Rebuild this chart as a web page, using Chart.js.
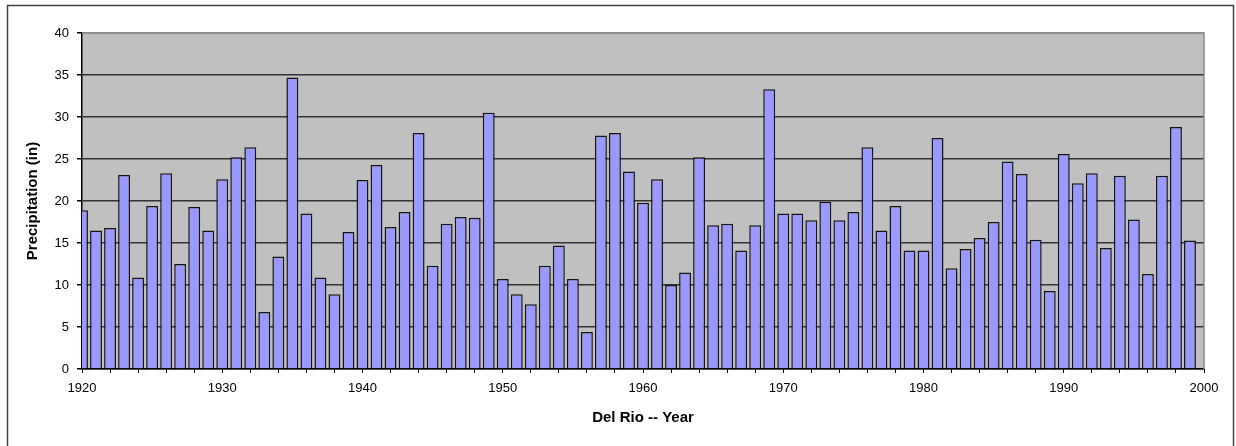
<!DOCTYPE html>
<html>
<head>
<meta charset="utf-8">
<title>Del Rio precipitation</title>
<script src="https://cdn.jsdelivr.net/npm/chart.js@4.4.1/dist/chart.umd.min.js"></script>
<style>
    html, body { margin: 0; padding: 0; background: #ffffff; }
    #wrap { width: 1236px; height: 446px; position: relative; }
</style>
</head>
<body>
<div id="wrap"><canvas id="rainChart" width="1236" height="446"></canvas></div>
<script>
// 年ごとの降水量 (インチ) - 画像から読み取り
const years = [
    1920, 1921, 1922, 1923, 1924, 1925, 1926, 1927, 1928, 1929,
    1930, 1931, 1932, 1933, 1934, 1935, 1936, 1937, 1938, 1939,
    1940, 1941, 1942, 1943, 1944, 1945, 1946, 1947, 1948, 1949,
    1950, 1951, 1952, 1953, 1954, 1955, 1956, 1957, 1958, 1959,
    1960, 1961, 1962, 1963, 1964, 1965, 1966, 1967, 1968, 1969,
    1970, 1971, 1972, 1973, 1974, 1975, 1976, 1977, 1978, 1979,
    1980, 1981, 1982, 1983, 1984, 1985, 1986, 1987, 1988, 1989,
    1990, 1991, 1992, 1993, 1994, 1995, 1996, 1997, 1998, 1999
];
const precipitation = [
    18.9, 16.5, 16.8, 23.1, 10.9, 19.4, 23.3, 12.5, 19.3, 16.5,
    22.6, 25.2, 26.4, 6.8, 13.4, 34.7, 18.5, 10.9, 8.9, 16.3,
    22.5, 24.3, 16.9, 18.7, 28.1, 12.3, 17.3, 18.1, 18.0, 30.5,
    10.7, 8.9, 7.7, 12.3, 14.7, 10.7, 4.4, 27.8, 28.1, 23.5,
    19.8, 22.6, 10.0, 11.5, 25.2, 17.1, 17.3, 14.1, 17.1, 33.3,
    18.5, 18.5, 17.7, 19.9, 17.7, 18.7, 26.4, 16.5, 19.4, 14.1,
    14.1, 27.5, 12.0, 14.3, 15.6, 17.5, 24.7, 23.2, 15.4, 9.3,
    25.6, 22.1, 23.3, 14.4, 23.0, 17.8, 11.3, 23.0, 28.8, 15.3
];
const xLabelYears = [1920, 1930, 1940, 1950, 1960, 1970, 1980, 1990, 2000];
const yTicks = [0, 5, 10, 15, 20, 25, 30, 35, 40];

const FONT = 'Liberation Sans, Arial, sans-serif';

// 背景 (外枠とプロットエリアのグレー)
const backdrop = {
    id: 'backdrop',
    beforeDraw(chart) {
        const ctx = chart.ctx;
        const a = chart.chartArea;
        ctx.save();
        ctx.fillStyle = '#ffffff';
        ctx.fillRect(0, 0, chart.width, chart.height);
        ctx.strokeStyle = '#444444';
        ctx.lineWidth = 1.5;
        ctx.strokeRect(7.5, 5.5, 1226, 470);
        ctx.fillStyle = '#c0c0c0';
        ctx.fillRect(a.left, a.top, a.right - a.left, a.bottom - a.top);
        ctx.restore();
    },
    afterDraw(chart) {
        const ctx = chart.ctx;
        const a = chart.chartArea;
        ctx.save();
        ctx.strokeStyle = '#8a8a8a';
        ctx.lineWidth = 1.5;
        ctx.beginPath();
        ctx.moveTo(a.left, a.top);
        ctx.lineTo(a.right, a.top);
        ctx.lineTo(a.right, a.bottom);
        ctx.stroke();
        ctx.restore();
    }
};

new Chart(document.getElementById('rainChart').getContext('2d'), {
    type: 'bar',
    data: {
        datasets: [{
            data: years.map((y, i) => ({ x: y, y: precipitation[i] })),
            backgroundColor: '#9999ff',
            borderColor: '#151515',
            borderWidth: 1.5,
            borderSkipped: 'bottom',
            barPercentage: 0.85,
            categoryPercentage: 1.0,
            clip: 0
        }]
    },
    options: {
        responsive: false,
        animation: false,
        events: [],
        layout: { padding: { left: 0, right: 32, top: 33, bottom: 15 } },
        plugins: {
            legend: { display: false },
            tooltip: { enabled: false }
        },
        scales: {
            x: {
                type: 'linear',
                min: 1920,
                max: 2000,
                offset: false,
                afterFit: s => { s.height = 62; },
                afterBuildTicks: s => {
                    const t = [];
                    for (let v = 1920; v <= 2000; v += 2) t.push({ value: v });
                    s.ticks = t;
                },
                ticks: {
                    autoSkip: false,
                    maxRotation: 0,
                    padding: 8,
                    color: '#000000',
                    font: { family: FONT, size: 13 },
                    callback: v => xLabelYears.includes(v) ? String(v) : ''
                },
                grid: {
                    offset: false,
                    drawOnChartArea: false,
                    drawTicks: true,
                    tickLength: 4,
                    tickColor: '#000000',
                    lineWidth: 1
                },
                border: { display: true, color: '#000000', width: 1.5 },
                title: {
                    display: true,
                    text: 'Del Rio -- Year',
                    color: '#000000',
                    font: { family: FONT, size: 15, weight: 'bold' },
                    padding: { top: 4, bottom: 4 }
                }
            },
            y: {
                min: 0,
                max: 40,
                afterFit: s => { s.width = 82; },
                afterBuildTicks: s => { s.ticks = yTicks.map(v => ({ value: v })); },
                ticks: {
                    padding: 8,
                    color: '#000000',
                    font: { family: FONT, size: 13 }
                },
                grid: {
                    drawTicks: true,
                    tickLength: 5,
                    tickColor: '#000000',
                    color: ctx => (ctx.tick && ctx.tick.value === 40) ? '#8a8a8a' : '#333333',
                    lineWidth: 1.5
                },
                border: { display: true, color: '#000000', width: 1.5 },
                title: {
                    display: true,
                    text: 'Precipitation (in)',
                    color: '#000000',
                    font: { family: FONT, size: 15, weight: 'bold' },
                    padding: { top: 24, bottom: 0 }
                }
            }
        }
    },
    plugins: [backdrop]
});
</script>
</body>
</html>
